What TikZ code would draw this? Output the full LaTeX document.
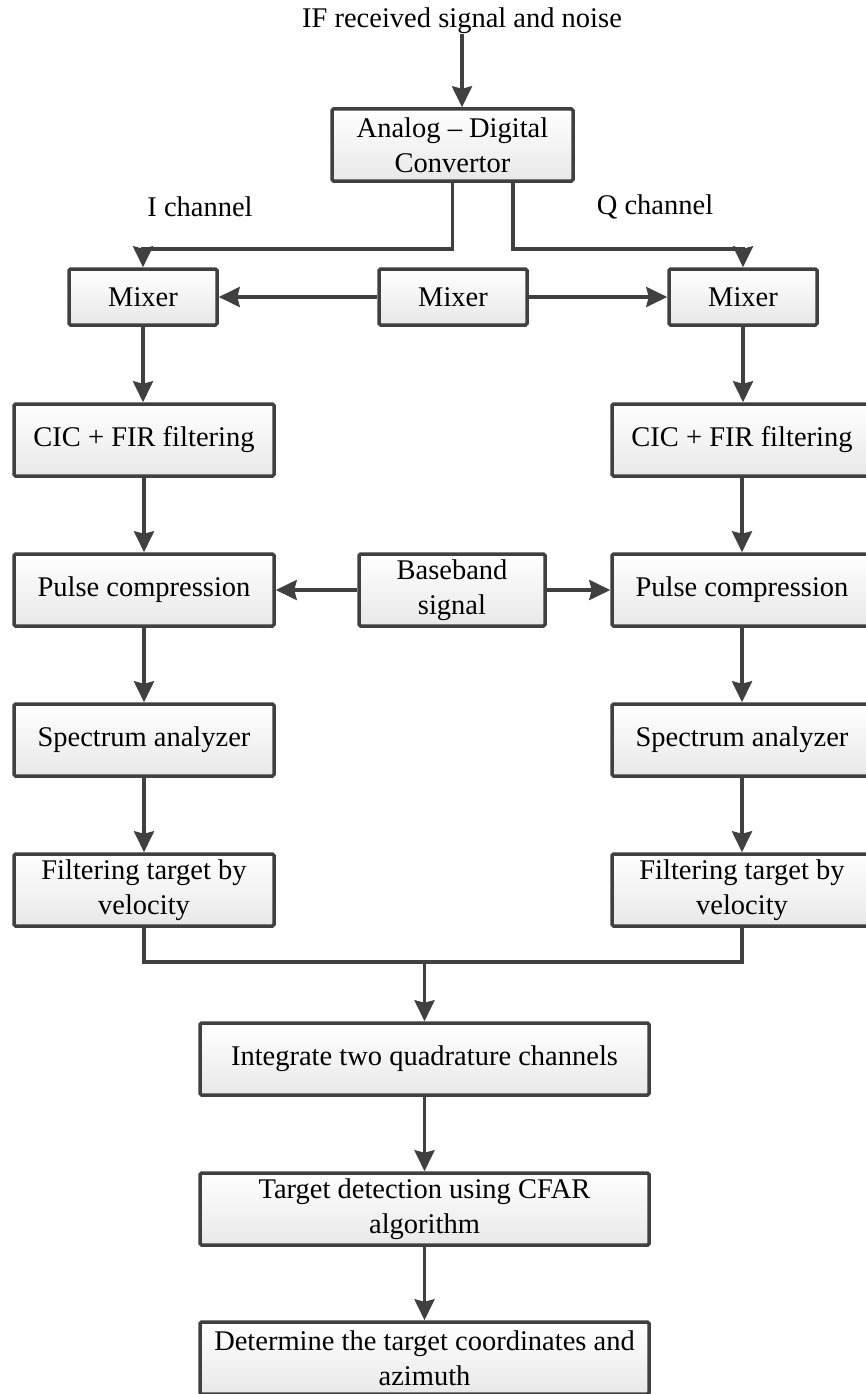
\documentclass[tikz,border=0pt]{standalone}
\usepackage{fontspec}
\setmainfont{Liberation Serif}
\usetikzlibrary{arrows.meta,calc}
\definecolor{lc}{RGB}{64,64,64}
\begin{document}
\begin{tikzpicture}[x=1pt,y=-1pt,
  box/.style={draw=lc, line width=3.5pt, rounded corners=1.5pt, top color=white, bottom color=black!9,
    align=center, inner sep=0pt, font=\fontsize{28.5}{35}\selectfont},
  side/.style={box, minimum width=260pt, minimum height=72pt},
  mix/.style={box, minimum width=148pt, minimum height=56pt},
  wide/.style={box, minimum width=449pt, minimum height=72pt},
  lbl/.style={inner sep=0pt, font=\fontsize{28.5}{35}\selectfont},
  arr/.style={draw=lc, line width=3.5pt, -{Stealth[length=21pt,width=20pt,inset=2.5pt]}},
  ln/.style={draw=lc, line width=3.5pt}]
\useasboundingbox (0,0) rectangle (866,1394);
\fill[white] (0,0) rectangle (866,1394);

\node[lbl] (title) at (462,21) {IF received signal and noise};
\node[box, minimum width=241pt, minimum height=72pt] (adc) at (452.5,145) {Analog -- Digital\\Convertor};
\node[lbl] (ilab) at (200,207) {I channel};
\node[lbl] (qlab) at (655,207) {Q channel};

\node[mix] (mixL) at (143,297) {Mixer};
\node[mix] (mixC) at (453,297) {Mixer};
\node[mix] (mixR) at (743,297) {Mixer};

\node[side] (cicL) at (144,440) {CIC + FIR filtering};
\node[side] (cicR) at (742,440) {CIC + FIR filtering};

\node[side] (pulL) at (144,590) {Pulse compression};
\node[box, minimum width=186pt, minimum height=72pt] (base) at (452,590) {Baseband\\signal};
\node[side] (pulR) at (742,590) {Pulse compression};

\node[side] (specL) at (144,740) {Spectrum analyzer};
\node[side] (specR) at (742,740) {Spectrum analyzer};

\node[side] (filL) at (144,890) {Filtering target by\\velocity};
\node[side] (filR) at (742,890) {Filtering target by\\velocity};

\node[wide] (integ) at (424.5,1059) {Integrate two quadrature channels};
\node[wide] (targ) at (424.5,1209) {Target detection using CFAR\\algorithm};
\node[wide] (det) at (424.5,1358) {Determine the target coordinates and\\azimuth};

% connectors
\draw[arr] (title.south) -- (title.south |- adc.north);
\coordinate (qs) at (513,183);
\coordinate (jI) at (452.5,249);
\coordinate (jQ) at (513,249);
\draw[arr] (adc.south) -- (jI) -| (mixL.north);
\draw[arr] (qs) -- (jQ) -| (mixR.north);
\draw[arr] (mixC.west) -- (mixL.east);
\draw[arr] (mixC.east) -- (mixR.west);

\draw[arr] (mixL.south) -- (mixL.south |- cicL.north);
\draw[arr] (mixR.south) -- (mixR.south |- cicR.north);
\draw[arr] (cicL) -- (pulL);
\draw[arr] (cicR) -- (pulR);
\draw[arr] (base.west) -- (pulL.east);
\draw[arr] (base.east) -- (pulR.west);
\draw[arr] (pulL) -- (specL);
\draw[arr] (pulR) -- (specR);
\draw[arr] (specL) -- (filL);
\draw[arr] (specR) -- (filR);

\coordinate (jn) at (424.5,962);
\draw[ln, line join=miter] (filL.south) |- (jn) -| (filR.south);
\draw[arr] (jn) -- (integ.north);
\draw[arr] (integ) -- (targ);
\draw[arr] (targ) -- (det);
\end{tikzpicture}
\end{document}
